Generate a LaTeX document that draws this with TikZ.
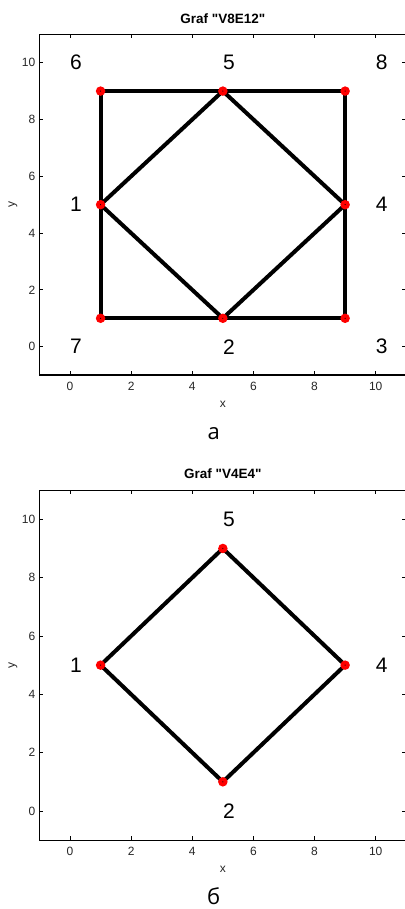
\documentclass[tikz,border=0pt]{standalone}
\usepackage{fontspec}
\setmainfont{Liberation Sans}
\newfontfamily\capfont{Open Sans}
\usepackage{tikz}
\usetikzlibrary{positioning,backgrounds}
\tikzset{
  axbox/.style={draw=black,line width=1.2pt},
  axtick/.style={draw=black,line width=0.8pt},
  ticklbl/.style={font=\fontsize{12}{14}\selectfont,inner sep=0pt,text=black!85},
  ptitle/.style={font=\fontsize{13.5}{16}\selectfont\bfseries,inner sep=0pt},
  capt/.style={font=\capfont\fontsize{22}{26}\selectfont,inner sep=0pt,anchor=base},
  vert/.style={circle,fill=red,inner sep=0pt,minimum size=9.5pt,
    path picture={\fill[black] (path picture bounding box.center) circle (0.6pt);}},
  vnum/.style={font=\fontsize{21}{25}\selectfont,anchor=west,inner sep=0pt},
  edge/.style={draw=black,line width=4pt,line cap=round},
}
\newcommand{\plotframe}[2]{%
  \draw[axbox] (-1,-1) rectangle (11,11);
  \foreach \t in {0,2,...,10} {
    \draw[axtick] (\t,-1) -- ++(0,4pt);
    \draw[axtick] (\t,11) -- ++(0,-4pt);
    \draw[axtick] (-1,\t) -- ++(4pt,0);
    \draw[axtick] (11,\t) -- ++(-4pt,0);
    \node[ticklbl,anchor=north] at ([yshift=-7pt]\t,-1) {\t};
    \node[ticklbl,anchor=east] at ([xshift=-4pt]-1,\t) {\t};
  }
  \node[ptitle] (#2title) at ([yshift=16pt]5,11) {#1};
  \node[ticklbl] (#2xlab) at ([yshift=-29pt]5,-1) {x};
  \node[ticklbl,rotate=90] (#2ylab) at ([xshift=-26.5pt]-1,5) {y};
}

\begin{document}
\begin{tikzpicture}[x=1pt,y=1pt]
  \useasboundingbox (0,0) rectangle (404,909);
  % plot a
  \begin{scope}[shift={(70pt,562.3pt)},x=30.57pt,y=28.4pt]
    \plotframe{Graf \textquotedbl V8E12\textquotedbl}{a}
    \foreach \n/\x/\y in {6/0/10,5/5/10,8/10/10,1/0/5,4/10/5,7/0/0,2/5/0,3/10/0} {
      \node[vnum] (la\n) at (\x,\y) {\n};
    }
    \foreach \n/\x/\y in {6/1/9,5/5/9,8/9/9,1/1/5,4/9/5,7/1/1,2/5/1,3/9/1} {
      \node[vert] (a\n) at (\x,\y) {};
    }
    \begin{pgfonlayer}{background}
      \foreach \u/\v in {6/5,5/8,8/4,4/3,3/2,2/7,7/1,1/6,1/5,5/4,4/2,2/1} {
        \draw[edge] (a\u.center) -- (a\v.center);
      }
    \end{pgfonlayer}
    \node[capt] (capa) at ([yshift=-64.5pt]4.7,-1) {а};
  \end{scope}
  % plot b
  \begin{scope}[shift={(70pt,98pt)},x=30.57pt,y=29.17pt]
    \plotframe{Graf \textquotedbl V4E4\textquotedbl}{b}
    \foreach \n/\x/\y in {5/5/10,1/0/5,4/10/5,2/5/0} {
      \node[vnum] (lb\n) at (\x,\y) {\n};
    }
    \foreach \n/\x/\y in {5/5/9,1/1/5,4/9/5,2/5/1} {
      \node[vert] (b\n) at (\x,\y) {};
    }
    \begin{pgfonlayer}{background}
      \foreach \u/\v in {1/5,5/4,4/2,2/1} {
        \draw[edge] (b\u.center) -- (b\v.center);
      }
    \end{pgfonlayer}
    \node[capt] (capb) at ([yshift=-64pt]4.7,-1) {б};
  \end{scope}
\end{tikzpicture}
\end{document}
